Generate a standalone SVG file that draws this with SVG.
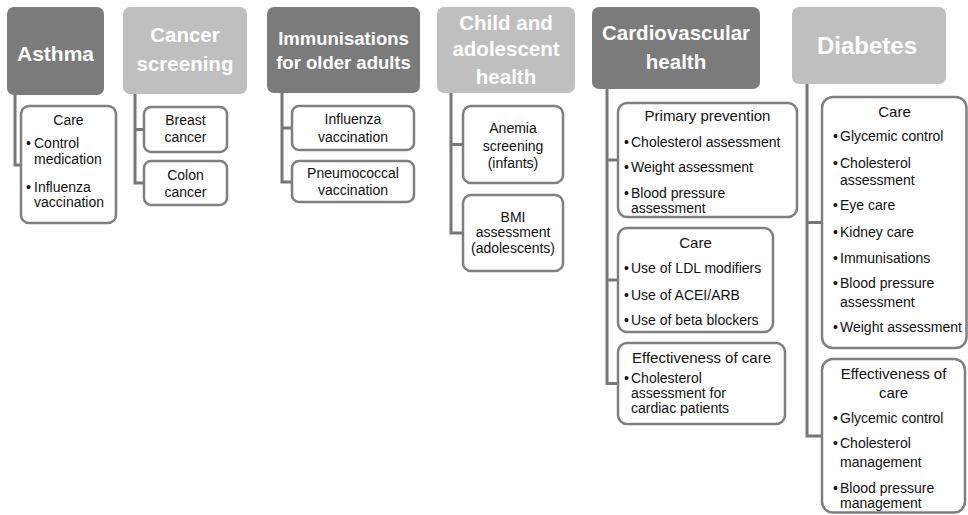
<svg xmlns="http://www.w3.org/2000/svg" width="968" height="515" viewBox="0 0 968 515">
<style>
  .bg{fill:#ffffff}
  .hdk{fill:#7b7b7b}
  .hlt{fill:#bfbfbf}
  .box{fill:#ffffff;stroke:#7f7f7f;stroke-width:2.5}
  .conn{fill:none;stroke:#777777;stroke-width:3}
  .ht{font-family:'Liberation Sans',Arial,sans-serif;font-weight:bold;fill:#ffffff;text-anchor:middle}
  .t{font-family:'Liberation Sans',Arial,sans-serif;font-size:14px;fill:#111111}
  .t2{font-family:'Liberation Sans',Arial,sans-serif;font-size:14px;fill:#111111}
  .sh{font-family:'Liberation Sans',Arial,sans-serif;font-size:15px;fill:#111111;text-anchor:middle}
  .c{text-anchor:middle}
</style>
<rect class="bg" x="0" y="0" width="968" height="515"/>

<g id="connectors">
  <path class="conn" d="M15,95 V165 H21"/>
  <path class="conn" d="M135,94 V183 H144 M135,129.5 H144"/>
  <path class="conn" d="M282,93 V182 H292 M282,128 H292"/>
  <path class="conn" d="M451,93 V233 H463 M451,144.5 H463"/>
  <path class="conn" d="M607,89 V383.5 H618 M607,160 H618 M607,280 H618"/>
  <path class="conn" d="M807,84 V436 H822 M807,222.5 H822"/>
</g>

<g id="asthma">
  <rect class="hdk" x="7" y="7" width="97" height="88" rx="7"/>
  <text class="ht" x="55.5" y="61" font-size="21">Asthma</text>
</g>
<g id="asthma-care">
  <rect class="box" x="21" y="106" width="95" height="117" rx="8"/>
  <text class="t c" x="68.5" y="125">Care</text>
  <text class="t" x="26" y="148">•</text><text class="t" x="34" y="148">Control</text>
  <text class="t" x="34" y="164">medication</text>
  <text class="t" x="26" y="192">•</text><text class="t" x="34" y="192">Influenza</text>
  <text class="t" x="34" y="207">vaccination</text>
</g>

<g id="cancer">
  <rect class="hlt" x="123" y="7" width="124" height="87" rx="7"/>
  <text class="ht" x="185" y="42" font-size="20.5">Cancer</text>
  <text class="ht" x="185" y="71" font-size="20.5">screening</text>
</g>
<g id="breast">
  <rect class="box" x="144" y="107" width="83" height="45" rx="7"/>
  <text class="t c" x="185.5" y="125">Breast</text>
  <text class="t c" x="185.5" y="142">cancer</text>
</g>
<g id="colon">
  <rect class="box" x="144" y="161" width="83" height="44" rx="7"/>
  <text class="t c" x="185.5" y="180">Colon</text>
  <text class="t c" x="185.5" y="197">cancer</text>
</g>

<g id="immunisations">
  <rect class="hdk" x="267" y="7" width="153" height="86" rx="7"/>
  <text class="ht" x="343.5" y="44.5" font-size="18.5">Immunisations</text>
  <text class="ht" x="343.5" y="68.5" font-size="18.5">for older adults</text>
</g>
<g id="influenza">
  <rect class="box" x="292" y="106" width="122" height="44" rx="7"/>
  <text class="t c" x="353" y="124">Influenza</text>
  <text class="t c" x="353" y="142">vaccination</text>
</g>
<g id="pneumococcal">
  <rect class="box" x="292" y="161" width="122" height="41" rx="7"/>
  <text class="t c" x="353" y="178">Pneumococcal</text>
  <text class="t c" x="353" y="195">vaccination</text>
</g>

<g id="child">
  <rect class="hlt" x="437" y="7" width="138" height="86" rx="7"/>
  <text class="ht" x="506" y="30" font-size="20.5">Child and</text>
  <text class="ht" x="506" y="56" font-size="20.5">adolescent</text>
  <text class="ht" x="506" y="84" font-size="20.5">health</text>
</g>
<g id="anemia">
  <rect class="box" x="463" y="106" width="100" height="77" rx="8"/>
  <text class="t c" x="513" y="133">Anemia</text>
  <text class="t c" x="513" y="151">screening</text>
  <text class="t c" x="513" y="168">(infants)</text>
</g>
<g id="bmi">
  <rect class="box" x="463" y="195" width="100" height="76" rx="8"/>
  <text class="t c" x="513" y="222">BMI</text>
  <text class="t c" x="513" y="237">assessment</text>
  <text class="t c" x="513" y="253">(adolescents)</text>
</g>

<g id="cardio">
  <rect class="hdk" x="592" y="7" width="168" height="82" rx="7"/>
  <text class="ht" x="676" y="40" font-size="20.5">Cardiovascular</text>
  <text class="ht" x="676" y="69" font-size="20.5">health</text>
</g>
<g id="cardio-primary">
  <rect class="box" x="618" y="103" width="179" height="114" rx="9"/>
  <text class="sh" x="707.5" y="120.5">Primary prevention</text>
  <text class="t2" x="624" y="147">•</text><text class="t2" x="631" y="147">Cholesterol assessment</text>
  <text class="t2" x="624" y="172">•</text><text class="t2" x="631" y="172">Weight assessment</text>
  <text class="t2" x="624" y="198">•</text><text class="t2" x="631" y="198">Blood pressure</text>
  <text class="t2" x="631" y="213">assessment</text>
</g>
<g id="cardio-care">
  <rect class="box" x="618" y="228" width="155" height="104" rx="9"/>
  <text class="sh" x="695.5" y="248">Care</text>
  <text class="t2" x="624" y="273">•</text><text class="t2" x="631" y="273">Use of LDL modifiers</text>
  <text class="t2" x="624" y="300">•</text><text class="t2" x="631" y="300">Use of ACEI/ARB</text>
  <text class="t2" x="624" y="325">•</text><text class="t2" x="631" y="325">Use of beta blockers</text>
</g>
<g id="cardio-effectiveness">
  <rect class="box" x="618" y="343" width="167" height="81" rx="9"/>
  <text class="sh" x="701.5" y="362.5" font-size="16.5">Effectiveness of care</text>
  <text class="t2" x="624" y="383">•</text><text class="t2" x="631" y="383">Cholesterol</text>
  <text class="t2" x="631" y="398">assessment for</text>
  <text class="t2" x="631" y="413">cardiac patients</text>
</g>

<g id="diabetes">
  <rect class="hlt" x="792" y="7" width="154" height="77" rx="7"/>
  <text class="ht" x="867" y="53.5" font-size="24">Diabetes</text>
</g>
<g id="diabetes-care">
  <rect class="box" x="822" y="97" width="144.5" height="251" rx="11"/>
  <text class="sh" x="894.5" y="117">Care</text>
  <text class="t2" x="833" y="141">•</text><text class="t2" x="840" y="141">Glycemic control</text>
  <text class="t2" x="833" y="168">•</text><text class="t2" x="840" y="168">Cholesterol</text>
  <text class="t2" x="840" y="185">assessment</text>
  <text class="t2" x="833" y="210">•</text><text class="t2" x="840" y="210">Eye care</text>
  <text class="t2" x="833" y="237">•</text><text class="t2" x="840" y="237">Kidney care</text>
  <text class="t2" x="833" y="263">•</text><text class="t2" x="840" y="263">Immunisations</text>
  <text class="t2" x="833" y="288">•</text><text class="t2" x="840" y="288">Blood pressure</text>
  <text class="t2" x="840" y="307">assessment</text>
  <text class="t2" x="833" y="332">•</text><text class="t2" x="840" y="332">Weight assessment</text>
</g>
<g id="diabetes-effectiveness">
  <rect class="box" x="822" y="359" width="143" height="153.5" rx="11"/>
  <text class="sh" x="893.5" y="379">Effectiveness of</text>
  <text class="sh" x="893.5" y="398">care</text>
  <text class="t2" x="833" y="423">•</text><text class="t2" x="840" y="423">Glycemic control</text>
  <text class="t2" x="833" y="448">•</text><text class="t2" x="840" y="448">Cholesterol</text>
  <text class="t2" x="840" y="467">management</text>
  <text class="t2" x="833" y="493">•</text><text class="t2" x="840" y="493">Blood pressure</text>
  <text class="t2" x="840" y="508">management</text>
</g>
</svg>
